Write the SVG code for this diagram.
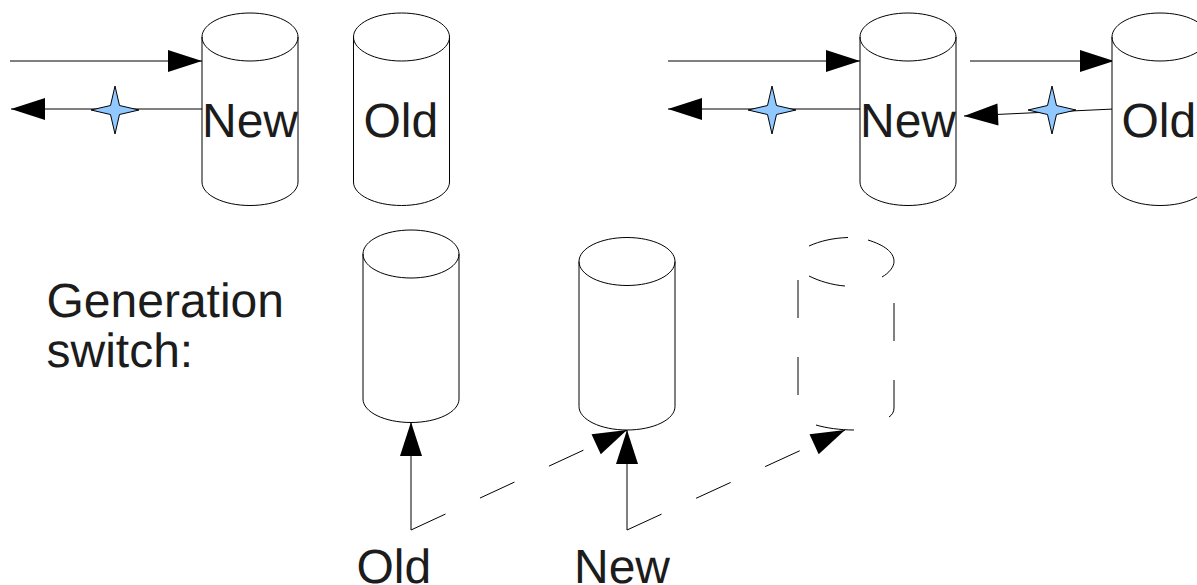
<svg xmlns="http://www.w3.org/2000/svg" width="1197" height="585" viewBox="0 0 1197 585">
<style>
.c{fill:#fff;stroke:#000;stroke-width:1}
.l{fill:none;stroke:#000;stroke-width:1}
.t{font-family:"Liberation Sans",Arial,sans-serif;font-size:48px;fill:#1c1c1c;text-rendering:geometricPrecision}
.s{fill:#90c8ff;stroke:#000;stroke-width:1}
.a{marker-end:url(#h)}
</style>
<defs>
<marker id="h" markerUnits="userSpaceOnUse" markerWidth="36" markerHeight="24" refX="34" refY="12" orient="auto" overflow="visible"><path d="M0 1L34 12L0 23Z" fill="#000"/></marker>
<path id="cyl" d="M0 24C0 10.7 21.5 0 48 0S96 10.7 96 24V169C96 182 74.5 192.500 48 192.500S0 182 0 169ZM0 24C0 37.300 21.500 48 48 48S96 37.300 96 24"/>
<path id="star" d="M0 -24L4.500 -4.500L24 0L4.500 4.500L0 24L-4.500 4.500L-24 0L-4.500 -4.500Z"/>
</defs>
<g id="connectors">
<path class="l a" d="M10 61H202"/>
<path class="l a" d="M202 109H11"/>
<path class="l a" d="M668 61H860"/>
<path class="l a" d="M860 109H668"/>
<path class="l a" d="M970 61H1114"/>
<path class="l a" d="M1114 109L964 116"/>
<path class="l a" d="M411 530V422"/>
<path class="l a" d="M627 530V430"/>
<path class="l a" stroke-dasharray="38 38" d="M411 530L627 430"/>
<path class="l a" stroke-dasharray="38 38" d="M627 530L845 430"/>
</g>
<g id="star1"><use href="#star" class="s" x="115" y="110"/></g>
<g id="star2"><use href="#star" class="s" x="772" y="110"/></g>
<g id="star3"><use href="#star" class="s" x="1052" y="110"/></g>
<g id="new-left"><use href="#cyl" class="c" x="202" y="13"/><text class="t" x="202" y="137">New</text></g>
<g id="old-left"><use href="#cyl" class="c" x="353.500" y="13"/><text class="t" x="363.500" y="137">Old</text></g>
<g id="new-right"><use href="#cyl" class="c" x="860" y="13"/><text class="t" x="860" y="137">New</text></g>
<g id="old-right"><use href="#cyl" class="c" x="1112" y="13"/><text class="t" x="1121.500" y="137">Old</text></g>
<g id="old-mid"><use href="#cyl" class="c" x="363" y="230"/></g>
<g id="new-mid"><use href="#cyl" class="c" x="579" y="237.500"/></g>
<g id="dashed-cylinder"><path class="l" d="M809 246C820 241 833 238 848 237.500M868 240C884 245 894 252 894 261.500C894 267 889 273 882 277M809 276C819 281 832 285 845 286M798 280V318M798 357V395M894 303V341M894 380V408C894 412 892 415 889 417M816 425C826 428 840 430 854 430"/></g>
<g id="label-generation"><text class="t" x="46.500" y="317">Generation</text><text class="t" x="46.500" y="367">switch:</text></g>
<g id="label-old"><text class="t" x="356.500" y="583">Old</text></g>
<g id="label-new"><text class="t" x="574" y="583">New</text></g>
</svg>
